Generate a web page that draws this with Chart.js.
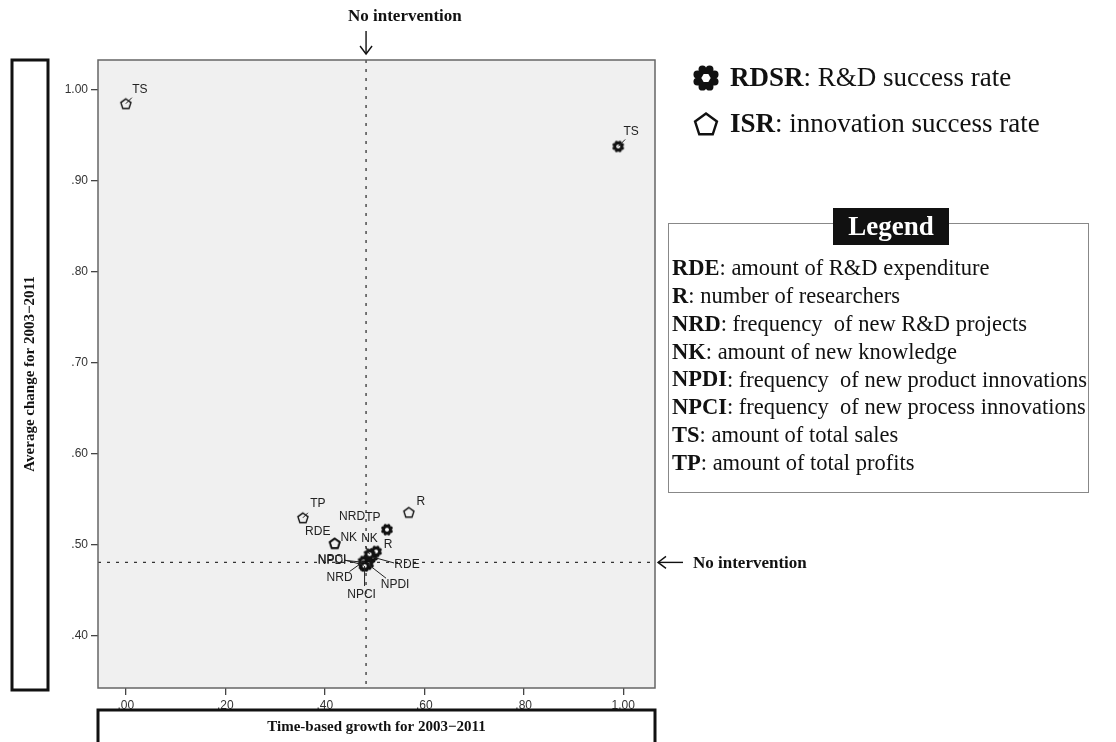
<!DOCTYPE html>
<html>
<head>
<meta charset="utf-8">
<script src="https://cdn.jsdelivr.net/npm/chart.js@4.4.1/dist/chart.umd.min.js"></script>
<style>
  html, body { margin: 0; padding: 0; background: #fff; }
  #wrap { width: 1116px; height: 742px; position: relative; }
</style>
</head>
<body>
<div id="wrap"><canvas id="growthChart"></canvas></div>
<script>
// indicators, same order as the legend box
const categories = ['RDE', 'R', 'NRD', 'NK', 'NPDI', 'NPCI', 'TS', 'TP'];

// ISR: innovation success rate
const isrGrowth = [0.420, 0.569, 0.483, 0.420, 0.481, 0.479, 0.000, 0.356];
const isrChange = [0.502, 0.536, 0.483, 0.502, 0.481, 0.478, 0.985, 0.530];

// RDSR: R&D success rate
const rdsrGrowth = [0.495, 0.503, 0.478, 0.490, 0.487, 0.480, 0.990, 0.525];
const rdsrChange = [0.487, 0.493, 0.482, 0.490, 0.479, 0.477, 0.938, 0.517];

const growthTicks = [0, 0.2, 0.4, 0.6, 0.8, 1.0];
const changeTicks = [0.4, 0.5, 0.6, 0.7, 0.8, 0.9, 1.0];

// "no intervention" reference values
const noInterventionGrowth = 0.483;
const noInterventionChange = 0.481;

const legendItems = [
    ['RDE', 'amount of R&D expenditure'],
    ['R', 'number of researchers'],
    ['NRD', 'frequency  of new R&D projects'],
    ['NK', 'amount of new knowledge'],
    ['NPDI', 'frequency  of new product innovations'],
    ['NPCI', 'frequency  of new process innovations'],
    ['TS', 'amount of total sales'],
    ['TP', 'amount of total profits']
];

// label offsets in px from the point (dx, dy) plus optional leader line end (lx, ly)
const isrLabelPos = {
    RDE:  { dx: -17, dy: -12 },
    R:    { dx: 12,  dy: -11 },
    NRD:  { dx: -14, dy: -44 },
    NK:   { dx: 14,  dy: -6 },
    NPDI: { dx: -33, dy: -2, lx: -20, ly: -2 },
    NPCI: { dx: -32, dy: -5, lx: -19, ly: -5 },
    TS:   { dx: 14,  dy: -14, lx: 6, ly: -6 },
    TP:   { dx: 15,  dy: -14, lx: 5, ly: -5 }
};
const rdsrLabelPos = {
    RDE:  { dx: 35,  dy: 8, lx: 22, ly: 6 },
    R:    { dx: 12,  dy: -7 },
    NRD:  { dx: -24, dy: 16, lx: -14, ly: 10 },
    NK:   { dx: 0,   dy: -16, lx: -4, ly: -8 },
    NPDI: { dx: 27,  dy: 20, lx: 18, ly: 14 },
    NPCI: { dx: -3,  dy: 29, lx: 0, ly: 20 },
    TS:   { dx: 13,  dy: -15, lx: 7, ly: -7 },
    TP:   { dx: -14, dy: -12 }
};

const SERIF = '"Liberation Serif", "Times New Roman", serif';
const SANS = '"Liberation Sans", Arial, sans-serif';

function gearPath(ctx, cx, cy, r) {
    // 8 rounded lobes around a disc
    ctx.beginPath();
    ctx.arc(cx, cy, r * 0.78, 0, Math.PI * 2);
    for (let k = 0; k < 8; k++) {
        const a = k * Math.PI / 4 + Math.PI / 8;
        ctx.moveTo(cx + Math.cos(a) * r * 0.72 + r * 0.3, cy + Math.sin(a) * r * 0.72);
        ctx.arc(cx + Math.cos(a) * r * 0.72, cy + Math.sin(a) * r * 0.72, r * 0.3, 0, Math.PI * 2);
    }
    ctx.fillStyle = '#111';
    ctx.fill();
}

function drawGear(ctx, cx, cy, r) {
    gearPath(ctx, cx, cy, r);
    ctx.beginPath();
    for (let k = 0; k < 6; k++) {
        const a = k * Math.PI / 3;
        const px = cx + Math.cos(a) * r * 0.36, py = cy + Math.sin(a) * r * 0.36;
        k ? ctx.lineTo(px, py) : ctx.moveTo(px, py);
    }
    ctx.closePath();
    ctx.fillStyle = '#fff';
    ctx.fill();
}

function drawPentagon(ctx, cx, cy, r, lw) {
    ctx.beginPath();
    for (let k = 0; k < 5; k++) {
        const a = -Math.PI / 2 + k * 2 * Math.PI / 5;
        const px = cx + Math.cos(a) * r, py = cy + Math.sin(a) * r;
        k ? ctx.lineTo(px, py) : ctx.moveTo(px, py);
    }
    ctx.closePath();
    ctx.lineWidth = lw;
    ctx.strokeStyle = '#111';
    ctx.stroke();
}

// small marker images used as pointStyle
function markerCanvas(draw) {
    const c = document.createElement('canvas');
    c.width = 14; c.height = 14;
    draw(c.getContext('2d'));
    return c;
}
const gearMarker = markerCanvas(ctx => drawGear(ctx, 7, 7, 6));
const pentagonMarker = markerCanvas(ctx => drawPentagon(ctx, 7, 7.5, 5.3, 1.4));

function fmtTick(v) {
    const s = Number(v).toFixed(2);
    return s.startsWith('0') ? s.slice(1) : s;
}

function arrowHead(ctx, x, y, dir) {
    // open chevron, dir = 'down' | 'left'
    ctx.beginPath();
    if (dir === 'down') {
        ctx.moveTo(x - 6, y - 8); ctx.lineTo(x, y); ctx.lineTo(x + 6, y - 8);
    } else {
        ctx.moveTo(x + 8, y - 6); ctx.lineTo(x, y); ctx.lineTo(x + 8, y + 6);
    }
    ctx.stroke();
}

function richText(ctx, x, y, bold, rest, size) {
    ctx.font = 'bold ' + size + 'px ' + SERIF;
    ctx.fillText(bold, x, y);
    const w = ctx.measureText(bold).width;
    ctx.font = size + 'px ' + SERIF;
    ctx.fillText(rest, x + w, y);
}

const quadrantPlugin = {
    id: 'quadrant',
    beforeDraw(chart) {
        const { ctx, chartArea: a } = chart;
        ctx.save();
        ctx.fillStyle = '#f0f0f0';
        ctx.fillRect(a.left, a.top, a.right - a.left, a.bottom - a.top);
        ctx.restore();
    },
    beforeDatasetsDraw(chart) {
        const { ctx, chartArea: a, scales } = chart;
        const vx = scales.x.getPixelForValue(noInterventionGrowth);
        const hy = scales.y.getPixelForValue(noInterventionChange);
        ctx.save();
        ctx.strokeStyle = '#333';
        ctx.lineWidth = 1.3;
        ctx.setLineDash([3, 6]);
        ctx.beginPath();
        ctx.moveTo(vx, a.top); ctx.lineTo(vx, a.bottom);
        ctx.moveTo(a.left, hy); ctx.lineTo(a.right, hy);
        ctx.stroke();
        ctx.restore();
    },
    afterDatasetsDraw(chart) {
        const { ctx, chartArea: a } = chart;
        const placements = [isrLabelPos, rdsrLabelPos];
        ctx.save();
        ctx.font = '12px ' + SANS;
        ctx.fillStyle = '#222';
        ctx.strokeStyle = '#222';
        ctx.lineWidth = 1;
        ctx.textAlign = 'center';
        ctx.textBaseline = 'middle';
        chart.data.datasets.forEach((ds, di) => {
            const pos = placements[ds.labelSet];
            chart.getDatasetMeta(di).data.forEach((pt, i) => {
                const p = pos[categories[i]];
                if (p.lx !== undefined) {
                    ctx.beginPath();
                    ctx.moveTo(pt.x, pt.y);
                    ctx.lineTo(pt.x + p.lx, pt.y + p.ly);
                    ctx.stroke();
                }
                ctx.fillText(categories[i], pt.x + p.dx, pt.y + p.dy);
            });
        });
        // frame around the plot
        ctx.strokeStyle = '#666';
        ctx.lineWidth = 1.5;
        ctx.strokeRect(a.left, a.top, a.right - a.left, a.bottom - a.top);
        ctx.restore();
    },
    afterDraw(chart) {
        const { ctx, chartArea: a, scales } = chart;
        const vx = scales.x.getPixelForValue(noInterventionGrowth);
        const hy = scales.y.getPixelForValue(noInterventionChange);
        ctx.save();
        ctx.fillStyle = '#111';
        ctx.strokeStyle = '#111';
        ctx.textBaseline = 'middle';

        // no intervention markers
        ctx.lineWidth = 1.4;
        ctx.beginPath(); ctx.moveTo(vx, 31); ctx.lineTo(vx, 54); ctx.stroke();
        arrowHead(ctx, vx, 54, 'down');
        ctx.beginPath(); ctx.moveTo(a.right + 3, hy); ctx.lineTo(a.right + 28, hy); ctx.stroke();
        arrowHead(ctx, a.right + 3, hy, 'left');
        ctx.font = 'bold 17px ' + SERIF;
        ctx.textAlign = 'left';
        ctx.fillText('No intervention', 348, 17);
        ctx.fillText('No intervention', a.right + 38, hy + 1);

        // axis title boxes
        ctx.lineWidth = 3;
        ctx.strokeRect(12, a.top, 36, a.bottom - a.top + 2);
        ctx.strokeRect(a.left, 710, a.right - a.left, 40);
        ctx.font = 'bold 15px ' + SERIF;
        ctx.textAlign = 'center';
        ctx.fillText('Time-based growth for 2003\u22122011', (a.left + a.right) / 2, 727);
        ctx.save();
        ctx.translate(30, (a.top + a.bottom) / 2);
        ctx.rotate(-Math.PI / 2);
        ctx.fillText('Average change for 2003\u22122011', 0, 0);
        ctx.restore();

        // marker key
        drawGear(ctx, 706, 78, 13);
        drawPentagon(ctx, 706, 125, 11.5, 2.4);
        ctx.fillStyle = '#111';
        ctx.textAlign = 'left';
        richText(ctx, 730, 79, 'RDSR', ': R&D success rate', 27);
        richText(ctx, 730, 125, 'ISR', ': innovation success rate', 27);

        // abbreviation box
        ctx.lineWidth = 1;
        ctx.strokeStyle = '#888';
        ctx.strokeRect(668.5, 223.5, 420, 269);
        ctx.fillStyle = '#111';
        ctx.fillRect(833, 208, 116, 37);
        ctx.fillStyle = '#fff';
        ctx.textAlign = 'center';
        ctx.font = 'bold 27px ' + SERIF;
        ctx.fillText('Legend', 891, 228);
        ctx.fillStyle = '#111';
        ctx.textAlign = 'left';
        legendItems.forEach((item, i) => {
            richText(ctx, 672, 269 + i * 27.9, item[0], ': ' + item[1], 22.5);
        });
        ctx.restore();
    }
};

const ctx = document.getElementById('growthChart').getContext('2d');
new Chart(ctx, {
    type: 'scatter',
    data: {
        datasets: [
            {
                label: 'RDSR',
                labelSet: 1,
                data: categories.map((c, i) => ({ x: rdsrGrowth[i], y: rdsrChange[i] })),
                pointStyle: gearMarker,
                pointRadius: 6
            },
            {
                label: 'ISR',
                labelSet: 0,
                data: categories.map((c, i) => ({ x: isrGrowth[i], y: isrChange[i] })),
                pointStyle: pentagonMarker,
                pointRadius: 6
            }
        ]
    },
    options: {
        responsive: true,
        maintainAspectRatio: false,
        animation: false,
        layout: { padding: { left: 0, top: 60, right: 461, bottom: 0 } },
        plugins: { legend: { display: false }, tooltip: { enabled: false } },
        scales: {
            x: {
                type: 'linear',
                min: -0.056,
                max: 1.064,
                afterBuildTicks: s => { s.ticks = growthTicks.map(v => ({ value: v })); },
                afterFit: s => { s.height = 54; },
                ticks: { callback: fmtTick, font: { family: SANS, size: 12 }, color: '#333', padding: 3, maxRotation: 0, autoSkip: false },
                grid: { drawOnChartArea: false, drawTicks: true, tickLength: 7, color: '#444', lineWidth: 1.3 },
                border: { display: false }
            },
            y: {
                type: 'linear',
                min: 0.343,
                max: 1.033,
                afterBuildTicks: s => { s.ticks = changeTicks.map(v => ({ value: v })); },
                afterFit: s => { s.width = 98; },
                ticks: { callback: fmtTick, font: { family: SANS, size: 12 }, color: '#333', padding: 3, autoSkip: false },
                grid: { drawOnChartArea: false, drawTicks: true, tickLength: 7, color: '#444', lineWidth: 1.3 },
                border: { display: false }
            }
        }
    },
    plugins: [quadrantPlugin]
});
</script>
</body>
</html>
